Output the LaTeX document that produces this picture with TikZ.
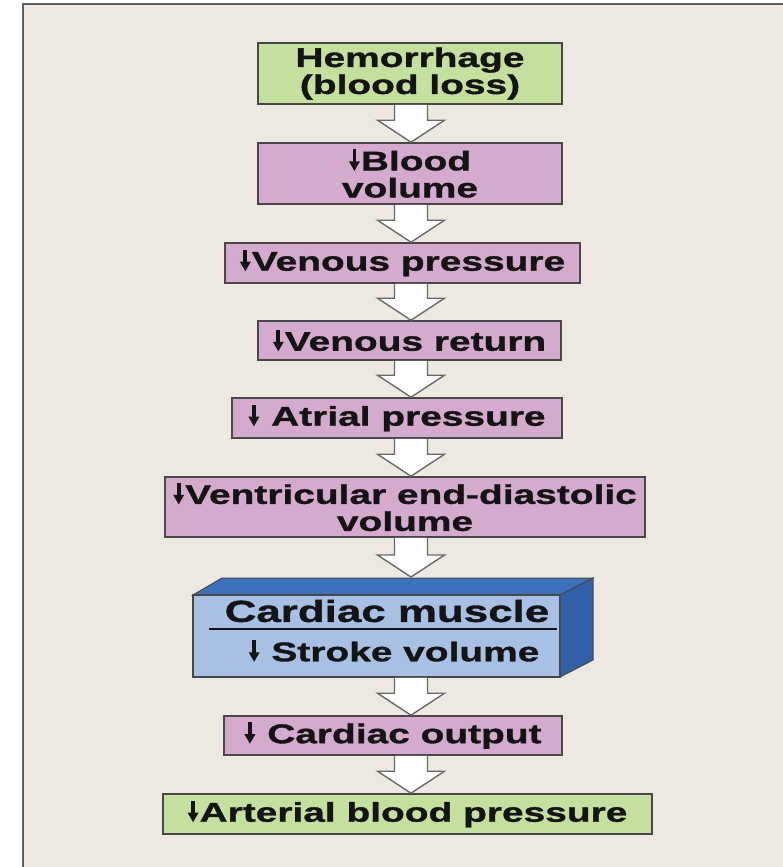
\documentclass[tikz,border=0pt]{standalone}
\usepackage{fontspec}
\usetikzlibrary{calc}
\newfontfamily\labfont{Liberation Sans}[FakeStretch=1.44, FakeBold=1.2]
\definecolor{bgc}{RGB}{237,233,226}
\definecolor{framec}{RGB}{95,95,95}
\definecolor{greenc}{RGB}{197,224,158}
\definecolor{pinkc}{RGB}{212,170,205}
\definecolor{bluefront}{RGB}{168,192,228}
\definecolor{bluetop}{RGB}{62,112,188}
\definecolor{blueside}{RGB}{50,96,168}
\definecolor{boxline}{RGB}{72,72,72}
\definecolor{arrline}{RGB}{105,105,105}
\definecolor{txt}{RGB}{20,20,20}
\newcommand\dn{\tikz[baseline=0pt, x=1pt, y=1pt]{\fill[txt] (-1.9,6) rectangle (1.9,21); \fill[txt] (-5.5,9) -- (5.5,9) -- (0,-0.5) -- cycle;}\kern1pt}
\tikzset{
  box/.style={draw=boxline, line width=1.6pt, inner sep=0pt, align=center,
    font=\labfont\bfseries\fontsize{27}{27}\selectfont, text=txt},
  greenbox/.style={box, fill=greenc},
  pinkbox/.style={box, fill=pinkc},
  lbl/.style={inner sep=0pt, font=\labfont\bfseries\fontsize{27}{27}\selectfont, text=txt},
  blockarr/.style={draw=arrline, fill=white, line width=1.4pt, line join=miter}
}
\newcommand\blockarrow[2]{%
  \filldraw[blockarr] let \p1=(#1), \p2=(#2) in
    (394.5pt,\y1) -- (394.5pt,\y2+22pt) -- (377.5pt,\y2+22pt) -- (411pt,\y2)
    -- (444.5pt,\y2+22pt) -- (427.5pt,\y2+22pt) -- (427.5pt,\y1);}
\begin{document}
\begin{tikzpicture}[x=1pt,y=-1pt]
\useasboundingbox (0,0) rectangle (782,867);
\fill[white] (0,0) rectangle (782,867);
\filldraw[fill=bgc, draw=framec, line width=2.4pt] (23,4) rectangle (800,890);

% boxes
\node[greenbox, minimum width=304, minimum height=61] (hem) at (410,73.5) {Hemorrhage\\(blood loss)};
\node[pinkbox, minimum width=304, minimum height=61] (blood) at (410,173.5) {\dn Blood\\volume};
\node[pinkbox, minimum width=355, minimum height=40] (vpress) at (402.5,263) {\dn Venous pressure};
\node[pinkbox, minimum width=303, minimum height=39] (vret) at (409.5,340.5) {\dn Venous return};
\node[pinkbox, minimum width=330, minimum height=40] (atrial) at (397,418) {\dn\ Atrial pressure};
\node[pinkbox, minimum width=480, minimum height=60] (vent) at (405,507) {\dn Ventricular end-diastolic\\volume};

% cardiac muscle block
\filldraw[fill=bluetop, draw=boxline, line width=1pt] (193,595) -- (222,578) -- (593,578) -- (560,595) -- cycle;
\filldraw[fill=blueside, draw=boxline, line width=1pt] (560,595) -- (593,578) -- (593,660) -- (560,677) -- cycle;
\node[draw=boxline, line width=1.6pt, fill=bluefront, minimum width=367, minimum height=82, inner sep=0pt] (cm) at (376.5,636) {};
\draw[line width=2.2pt, txt] (209,629) -- (557,629);
\node[lbl, font=\labfont\bfseries\fontsize{30.5}{30}\selectfont] (cmt1) at (387,611) {Cardiac muscle};
\node[lbl] (cmt2) at (394,651) {\dn\ Stroke volume};
\coordinate (cmtop) at (411,577);

\node[pinkbox, minimum width=338, minimum height=39] (cout) at (393,735.5) {\dn\ Cardiac output};
\node[greenbox, minimum width=489, minimum height=40] (abp) at (407.5,814) {\dn Arterial blood pressure};

% block arrows
\blockarrow{hem.south}{blood.north}
\blockarrow{blood.south}{vpress.north}
\blockarrow{vpress.south}{vret.north}
\blockarrow{vret.south}{atrial.north}
\blockarrow{atrial.south}{vent.north}
\blockarrow{vent.south}{cmtop}
\blockarrow{cm.south}{cout.north}
\blockarrow{cout.south}{abp.north}
\end{tikzpicture}
\end{document}
